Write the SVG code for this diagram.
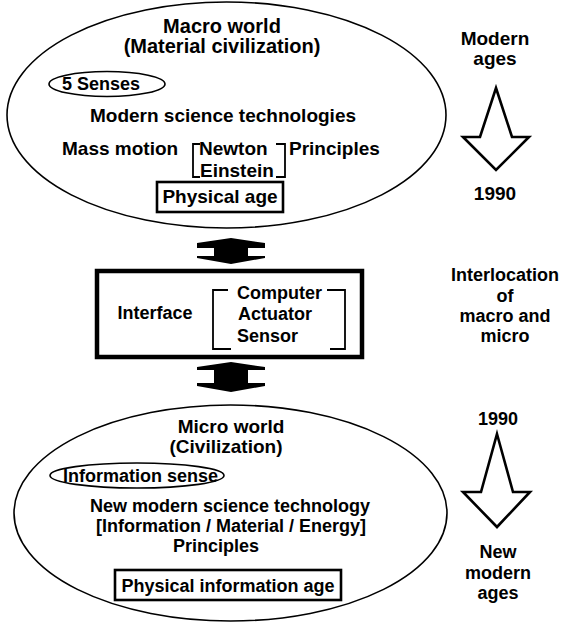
<svg xmlns="http://www.w3.org/2000/svg" width="563" height="624" viewBox="0 0 563 624">
<style>
text{font-family:"Liberation Sans",Arial,Helvetica,sans-serif;font-weight:bold;font-size:19px;fill:#000}
.s{font-size:18px}
.t{font-size:20px}
.c{text-anchor:middle}
.ell{fill:none;stroke:#000;stroke-width:1.6}
.box{fill:#fff;stroke:#000;stroke-width:2.6}
.ibox{fill:#fff;stroke:#000;stroke-width:4.5}
.brk{fill:none;stroke:#000;stroke-width:1.8}
.hollow{fill:#fff;stroke:#000;stroke-width:2.6;stroke-linejoin:miter}
.solid{fill:#000;stroke:none}
</style>
<rect width="563" height="624" fill="#fff"/>

<g id="macro-world">
  <ellipse class="ell" cx="226.5" cy="115" rx="219.5" ry="113"/>
  <text class="c t" x="222" y="33">Macro world</text>
  <text class="c t" x="222" y="53">(Material civilization)</text>
  <ellipse class="ell" cx="107" cy="84" rx="58" ry="12.5"/>
  <text class="s" x="62" y="90">5 Senses</text>
  <text class="c" x="223" y="122">Modern science technologies</text>
  <text x="62" y="155">Mass motion</text>
  <path class="brk" d="M200,144 H193 V177 H200"/>
  <text x="199" y="155">Newton</text>
  <text x="200" y="177">Einstein</text>
  <path class="brk" d="M276,144 H285 V177 H276"/>
  <text x="289" y="155">Principles</text>
  <rect class="box" x="157" y="182" width="126" height="30"/>
  <text class="c" x="220" y="203">Physical age</text>
</g>

<g id="modern-ages">
  <text class="c" x="495" y="45">Modern</text>
  <text class="c" x="495" y="65">ages</text>
  <polygon class="hollow" points="496,88 512,137 529,137 496,170 463,137 480,137"/>
  <text class="c" x="495" y="200">1990</text>
</g>

<g id="interface">
  <rect class="ibox" x="97" y="271" width="265" height="86"/>
  <text class="c s" x="155" y="319">Interface</text>
  <path class="brk" d="M228,290 H213 V349 H231"/>
  <text class="s" x="237" y="299">Computer</text>
  <text class="s" x="238" y="320">Actuator</text>
  <text class="s" x="237" y="342">Sensor</text>
  <path class="brk" d="M327,290 H345 V349 H330"/>
</g>

<g id="interlocation">
  <text class="c s" x="505" y="281">Interlocation</text>
  <text class="c s" x="505" y="302">of</text>
  <text class="c s" x="505" y="322">macro and</text>
  <text class="c s" x="505" y="342">micro</text>
</g>

<g id="micro-world">
  <ellipse class="ell" cx="230.5" cy="513" rx="216.5" ry="108"/>
  <text class="c" x="231" y="433">Micro world</text>
  <text class="c" x="226" y="453">(Civilization)</text>
  <ellipse class="ell" cx="137" cy="475.5" rx="87" ry="12.5"/>
  <text class="s" x="63" y="482">Information sense</text>
  <text class="c s" x="230" y="512">New modern science technology</text>
  <text class="c s" x="231" y="532">[Information / Material / Energy]</text>
  <text class="c s" x="216" y="552">Principles</text>
  <rect class="box" x="115" y="570" width="226" height="30"/>
  <text class="c s" x="228" y="592">Physical information age</text>
</g>

<g id="new-modern-ages">
  <text class="c s" x="498" y="425">1990</text>
  <polygon class="hollow" points="497,434 513,492 530,492 497,527 463,492 481,492"/>
  <text class="c s" x="498" y="558">New</text>
  <text class="c s" x="498" y="579">modern</text>
  <text class="c s" x="498" y="599">ages</text>
</g>

<g id="connectors">
  <path class="solid" d="M231,238 L265,243 L265,248 L248,248 L248,256 L265,256 L265,258 L231,264 L197,258 L197,256 L214,256 L214,248 L197,248 L197,243 Z"/>
  <path class="solid" d="M231,362 L265,367 L265,370 L248,370 L248,383 L265,383 L265,386 L231,392 L197,386 L197,383 L214,383 L214,370 L197,370 L197,367 Z"/>
</g>
</svg>
